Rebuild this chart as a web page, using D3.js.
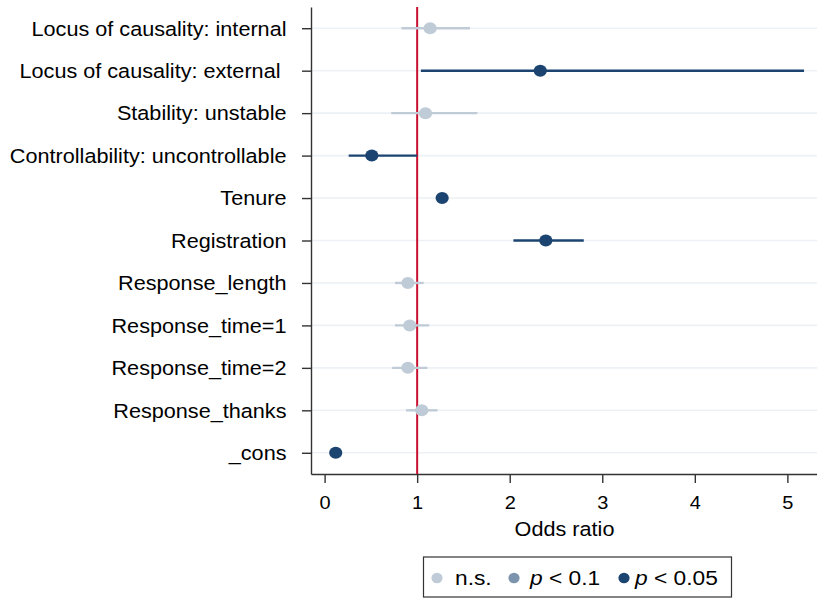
<!DOCTYPE html>
<html><head><meta charset="utf-8">
<script src="https://cdn.jsdelivr.net/npm/d3@7"></script>
<style>
html,body{margin:0;padding:0;background:#fff;}
text{font-family:"Liberation Sans",Arial,Helvetica,sans-serif;fill:#000;}
</style></head>
<body><svg id="c" width="817" height="600"></svg>
<script>
const categories = ["Locus of causality: internal","Locus of causality: external ","Stability: unstable","Controllability: uncontrollable","Tenure","Registration","Response_length","Response_time=1","Response_time=2","Response_thanks","_cons"];
const oddsRatio = [1.14, 2.33, 1.09, 0.51, 1.27, 2.39, 0.90, 0.92, 0.90, 1.05, 0.12];
const ciLow     = [0.83, 1.04, 0.72, 0.26, 1.22, 2.04, 0.76, 0.76, 0.73, 0.88, 0.09];
const ciHigh    = [1.57, 5.18, 1.65, 1.00, 1.32, 2.80, 1.07, 1.13, 1.11, 1.22, 0.15];
const signif    = ["ns","p05","ns","p05","p05","p05","ns","ns","ns","ns","p05"];
const xTicks = [0,1,2,3,4,5];
const legendKeys = ["ns","p10","p05"];

const colors = {ns:"#bfcbd6", p10:"#7b93ac", p05:"#1b4470"};
const SX = 1.11;
const svg = d3.select("#c");
const L=311, R=817, T=7, B=474;
const x = d3.scaleLinear().domain([-0.147, 5.32]).range([L, R]);
const y = d3.scalePoint().domain(categories).range([T, B]).padding(0.5);

// gridlines
svg.append("g").selectAll("line").data(categories).join("line")
  .attr("x1", L).attr("x2", R).attr("y1", d=>y(d)).attr("y2", d=>y(d))
  .attr("stroke", "#edf1f5").attr("stroke-width", 1.6);

// y axis
const ya = svg.append("g").attr("transform", `translate(${L},0)`).call(d3.axisLeft(y).tickSize(9).tickSizeOuter(0));
ya.select(".domain").attr("stroke","#333").attr("stroke-width",1.4);
ya.selectAll(".tick line").attr("stroke","#333").attr("stroke-width",1.4);
ya.selectAll(".tick text").attr("x",0).attr("dy","0.35em").attr("text-anchor","end")
  .attr("font-size","19.5px").style("white-space","pre")
  .attr("transform", `translate(-24.5,0) scale(${SX},1)`);

// x axis
const xa = svg.append("g").attr("transform", `translate(0,${B})`).call(d3.axisBottom(x).tickValues(xTicks).tickFormat(d3.format("d")).tickSize(9).tickSizeOuter(0));
xa.select(".domain").attr("stroke","#333").attr("stroke-width",1.4);
xa.selectAll(".tick line").attr("stroke","#333").attr("stroke-width",1.4);
xa.selectAll(".tick text").attr("y",0).attr("dy","0.35em").attr("text-anchor","middle")
  .attr("font-size","18px").attr("transform", `translate(0,28.5) scale(${SX},1)`);

// x title
svg.append("text").attr("transform", `translate(${(L+R)/2 + 0.5},529) scale(${SX},1)`)
  .attr("text-anchor","middle").attr("dy","0.35em").attr("font-size","19.5px").text("Odds ratio");

// reference line at 1
svg.append("line").attr("x1", x(1)).attr("x2", x(1)).attr("y1", T).attr("y2", B)
  .attr("stroke", "#c8102e").attr("stroke-width", 2);

const idx = d3.range(categories.length);
// CIs
svg.append("g").selectAll("line").data(idx).join("line")
  .attr("x1", i=>x(ciLow[i])).attr("x2", i=>x(ciHigh[i]))
  .attr("y1", i=>y(categories[i])).attr("y2", i=>y(categories[i]))
  .attr("stroke", i=>colors[signif[i]]).attr("stroke-width", 2.4);
// points
svg.append("g").selectAll("ellipse").data(idx).join("ellipse")
  .attr("cx", i=>x(oddsRatio[i])).attr("cy", i=>y(categories[i]))
  .attr("rx", 6.6).attr("ry", 6)
  .attr("fill", i=>colors[signif[i]]);

// legend
const lg = svg.append("g");
lg.append("rect").attr("x",423.5).attr("y",557).attr("width",308).attr("height",40)
  .attr("fill","#fff").attr("stroke","#333").attr("stroke-width",1.2);
const legendX = [437, 514, 624];
const legendTextX = [455, 530, 635];
legendKeys.forEach((k,i)=>{
  lg.append("ellipse").attr("cx",legendX[i]).attr("cy",578).attr("rx",5.6).attr("ry",5.2).attr("fill",colors[k]);
  const t = lg.append("text").attr("transform",`translate(${legendTextX[i]},578) scale(${SX},1)`)
    .attr("dy","0.35em").attr("font-size","20.5px").style("white-space","pre");
  if(k==="ns"){ t.text("n.s."); }
  else {
    t.append("tspan").attr("font-style","italic").text("p");
    t.append("tspan").text(k==="p10" ? " < 0.1" : " < 0.05");
  }
});
</script></body></html>
